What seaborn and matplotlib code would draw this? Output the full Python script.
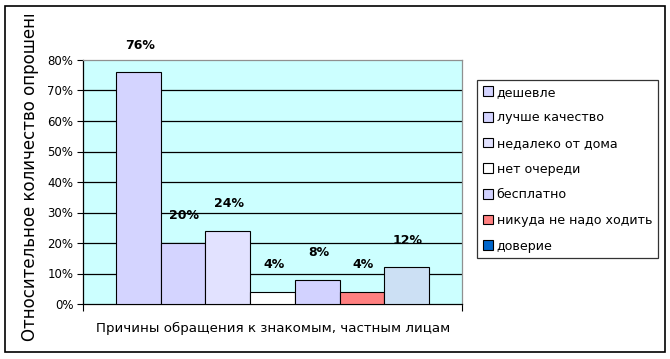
import matplotlib
matplotlib.use("Agg")
import matplotlib.pyplot as plt
import seaborn as sns
import pandas as pd
from matplotlib.patches import Patch, Rectangle
from matplotlib.transforms import Bbox, TransformedBbox
from matplotlib.ticker import FuncFormatter

reasons = ["дешевле", "лучше качество", "недалеко от дома", "нет очереди",
           "бесплатно", "никуда не надо ходить", "доверие"]
values = [76, 20, 24, 4, 8, 4, 12]
bar_colors = ["#D4D4FF", "#D4D4FF", "#E2E2FF", "#FFFFFF", "#D2D2FF", "#FF8080", "#CCE0F4"]
legend_colors = ["#D4D4FF", "#D4D4FF", "#E2E2FF", "#FFFFFF", "#D2D2FF", "#FF8080", "#0066CC"]
category = "Причины обращения к знакомым, частным лицам"
ylabel_text = "Относительное количество опрошенных"
yticks = [0, 10, 20, 30, 40, 50, 60, 70, 80]

df = pd.DataFrame({"cat": [category] * len(reasons), "reason": reasons, "value": values})

sns.set_style("white")
plt.rcParams["font.family"] = ["DejaVu Sans"]
plt.rcParams["text.color"] = "black"
plt.rcParams["axes.labelcolor"] = "black"
plt.rcParams["xtick.color"] = "black"
plt.rcParams["ytick.color"] = "black"

fig = plt.figure(figsize=(6.7, 3.59), dpi=100)
fig.patch.set_facecolor("white")
ax = fig.add_axes([83 / 670, 1 - 304 / 359, (462 - 83) / 670, (304 - 60) / 359])
ax.set_facecolor("#CCFFFF")

sns.barplot(data=df, x="cat", y="value", hue="reason", hue_order=reasons,
            palette=bar_colors, width=0.826, dodge=True, edgecolor="black",
            linewidth=0.8, saturation=1, legend=False, ax=ax, zorder=3)

ax.set_xlim(-0.5, 0.5)
ax.set_ylim(0, 80)
ax.set_yticks(yticks)
ax.yaxis.set_major_formatter(FuncFormatter(lambda v, p: f"{int(v)}%"))
ax.tick_params(axis="y", which="both", left=True, direction="out", length=4,
               width=0.8, labelsize=8.5, pad=3, colors="black")
ax.set_xticks([-0.5, 0.5])
ax.set_xticklabels(["", ""])
ax.tick_params(axis="x", bottom=True, direction="out", length=5, width=0.8)
for y in yticks[1:-1]:
    ax.axhline(y, color="black", linewidth=0.9, zorder=1)
ax.set_xlabel("")
ax.set_ylabel("")
for side in ["left", "bottom"]:
    ax.spines[side].set_color("black")
    ax.spines[side].set_linewidth(0.9)
for side in ["top", "right"]:
    ax.spines[side].set_color("#909090")
    ax.spines[side].set_linewidth(0.9)

for patch, v in zip(ax.patches, values):
    cx = patch.get_x() + patch.get_width() / 2
    ax.annotate(f"{v}%", (cx, patch.get_height()), xytext=(1, 19.5),
                textcoords="offset points", ha="center", va="center",
                fontsize=9, fontweight="bold", color="black",
                annotation_clip=False, zorder=5)

fig.text(273 / 670, 1 - 328 / 359, category, ha="center", va="center",
         fontsize=9.6, color="black")

t = fig.text(30 / 670, 1 - 341 / 359, ylabel_text, rotation=90, ha="center",
             va="bottom", fontsize=12, color="black")
t.set_clip_on(True)
t.set_clip_box(TransformedBbox(Bbox([[0, 0], [1, 1 - 15 / 359]]), fig.transFigure))

handles = [Patch(facecolor=c, edgecolor="black", linewidth=0.8) for c in legend_colors]
leg = fig.legend(handles, reasons, loc="upper left",
                 bbox_to_anchor=(477 / 670, 1 - 80 / 359), borderaxespad=0,
                 fontsize=9.1, frameon=True, fancybox=False, handlelength=0.8,
                 handleheight=0.8, handletextpad=0.3, labelspacing=1.0,
                 borderpad=0.45)
leg.get_frame().set_edgecolor("black")
leg.get_frame().set_linewidth(0.9)
for txt in leg.get_texts():
    txt.set_color("black")

fig.patches.append(Rectangle((5 / 670, 1 - 352 / 359), 660 / 670, 346 / 359,
                             transform=fig.transFigure, fill=False,
                             edgecolor="black", linewidth=1.2))

fig.savefig("out.png", dpi=100)
